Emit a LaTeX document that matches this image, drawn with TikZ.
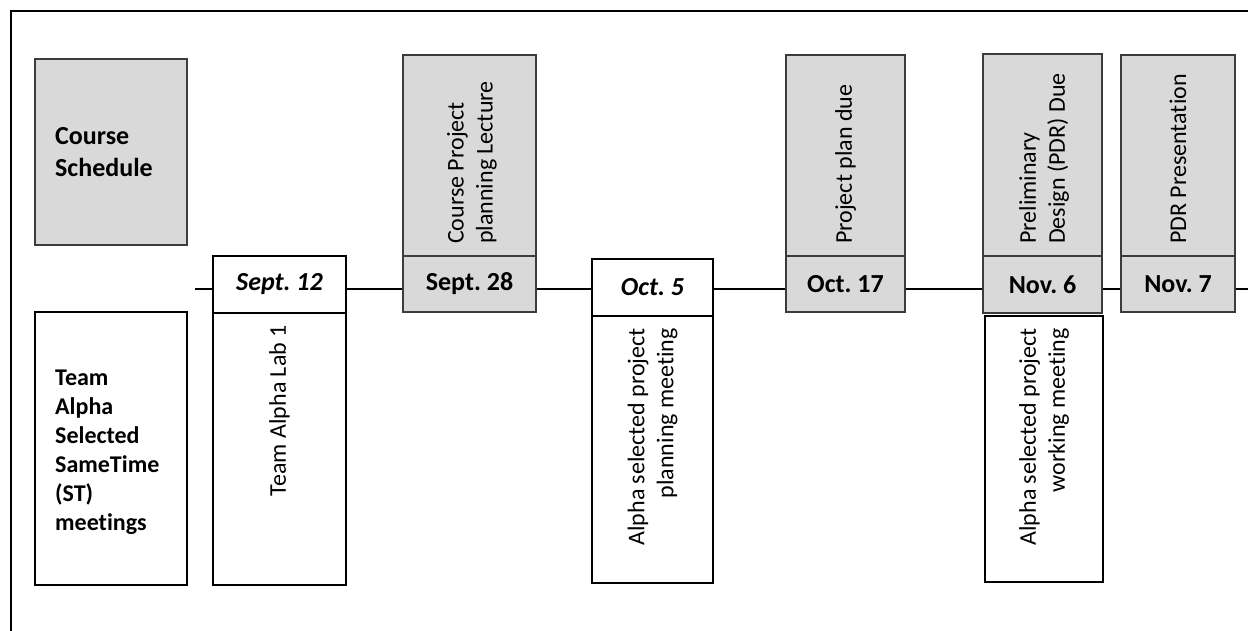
\documentclass[tikz,border=0pt]{standalone}
\usepackage{fontspec}
\setmainfont{Carlito}[Ligatures=CommonOff]
\definecolor{boxgray}{RGB}{217,217,217}
\definecolor{edgegray}{RGB}{60,60,60}
\tikzset{
  graybox/.style={draw=edgegray, fill=boxgray, line width=1.3pt, inner sep=0pt},
  whitebox/.style={draw=black, fill=white, line width=2.2pt, inner sep=0pt},
  datelbl/.style={font=\fontsize{26}{32}\selectfont\bfseries},
  dateit/.style={font=\fontsize{26}{32}\selectfont\bfseries\itshape},
  vtext/.style={font=\fontsize{24}{29}\selectfont, rotate=90, inner sep=0pt},
  htext/.style={inner sep=0pt, align=left, anchor=west},
  tline/.style={line width=2pt, draw=black},
  frameline/.style={line width=2.2pt, draw=black}
}
\begin{document}
\frenchspacing
\begin{tikzpicture}[x=1pt,y=-1pt]
\useasboundingbox (0,0) rectangle (1248,630);
\fill[white] (0,0) rectangle (1248,630);
% frame
\coordinate (fbl) at (11,632);
\coordinate (ftl) at (11,11);
\coordinate (ftr) at (1250,11);
\draw[frameline] (fbl) -- (ftl) -- (ftr);

% timeline end points
\coordinate (tl0) at (195,289);
\coordinate (tl1) at (1250,289);

% course schedule
\node[graybox, minimum width=152, minimum height=186] (cs) at (111,152) {};
\node[htext, font=\fontsize{26}{32}\selectfont\bfseries] (cst) at (55,152) {Course\\Schedule};

% team alpha
\node[whitebox, minimum width=152, minimum height=273] (ta) at (111,448.5) {};
\node[htext, font=\fontsize{24}{29}\selectfont\bfseries] (tat) at (55,452) {Team\\Alpha\\Selected\\SameTime\\(ST)\\meetings};

% Sept. 12
\node[whitebox, minimum width=133, minimum height=57, dateit] (s12) at (279.5,284.5) {Sept. 12};
\node[whitebox, minimum width=133, minimum height=272] (s12b) at (279.5,449) {};
\node[vtext, anchor=east, align=right] (s12t) at (279.5,325) {Team Alpha Lab 1};

% Sept. 28
\node[graybox, minimum width=133, minimum height=201] (s28top) at (469.5,155.5) {};
\node[graybox, minimum width=133, minimum height=56, datelbl] (s28) at (469.5,284) {Sept. 28};
\node[vtext, anchor=west, align=left] (s28t) at (472,244) {Course Project\\planning Lecture};

% Oct. 5
\node[whitebox, minimum width=121, minimum height=57, dateit] (o5) at (652.5,287.5) {Oct. 5};
\node[whitebox, minimum width=121, minimum height=267] (o5b) at (652.5,449.5) {};
\node[vtext, anchor=east, align=right] (o5t) at (652.5,328) {Alpha selected project\\planning meeting};

% Oct. 17
\node[graybox, minimum width=119, minimum height=201] (o17top) at (845.5,155.5) {};
\node[graybox, minimum width=119, minimum height=56, datelbl] (o17) at (845.5,284) {Oct. 17};
\node[vtext, anchor=west, align=left] (o17t) at (845.5,244) {Project plan due};

% Nov. 6
\node[graybox, minimum width=119, minimum height=202] (n6top) at (1042.5,155) {};
\node[graybox, minimum width=119, minimum height=57, datelbl] (n6) at (1042.5,284.5) {Nov. 6};
\node[whitebox, minimum width=118, minimum height=266] (n6b) at (1044,449) {};
\node[vtext, anchor=west, align=left] (n6t) at (1044,244) {Preliminary\\Design (PDR) Due};
\node[vtext, anchor=east, align=right] (n6bt) at (1044,328) {Alpha selected project\\working meeting};

% Nov. 7
\node[graybox, minimum width=114, minimum height=201] (n7top) at (1178,155.5) {};
\node[graybox, minimum width=114, minimum height=56, datelbl] (n7) at (1178,284) {Nov. 7};
\node[vtext, anchor=west, align=left] (n7t) at (1178,244) {PDR Presentation};

% timeline segments
\draw[tline] (tl0) -- (tl0 -| s12.west);
\draw[tline] (s12.east |- tl0) -- (s28.west |- tl0);
\draw[tline] (s28.east |- tl0) -- (o5.west |- tl0);
\draw[tline] (o5.east |- tl0) -- (o17.west |- tl0);
\draw[tline] (o17.east |- tl0) -- (n6.west |- tl0);
\draw[tline] (n6.east |- tl0) -- (n7.west |- tl0);
\draw[tline] (n7.east |- tl0) -- (tl1);
\end{tikzpicture}
\end{document}
